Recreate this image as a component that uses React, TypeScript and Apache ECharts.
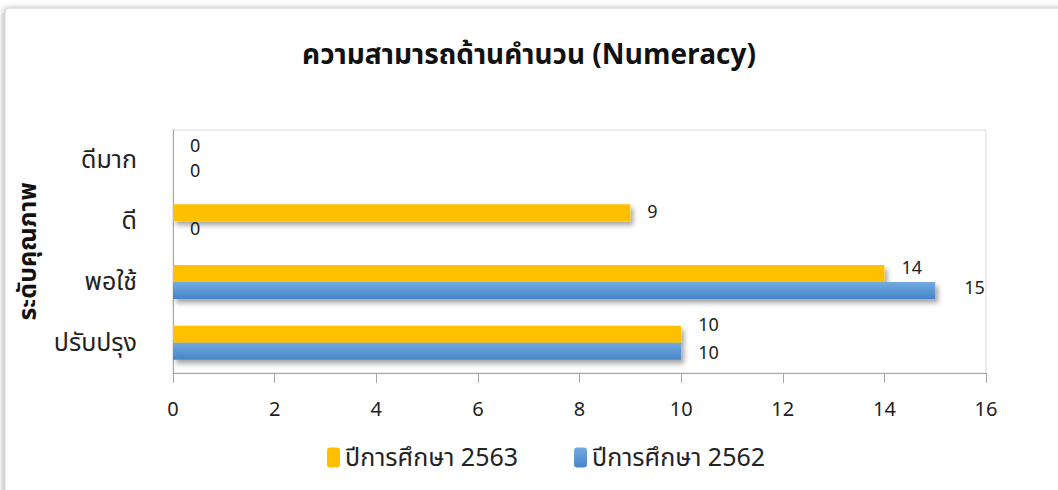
import React, { useEffect, useRef } from "react";
import * as echarts from "echarts";

const categories = ["ปรับปรุง", "พอใช้", "ดี", "ดีมาก"];
const values2563 = [10, 14, 9, 0];
const values2562 = [10, 15, 0, 0];
const seriesNames = ["ปีการศึกษา 2563", "ปีการศึกษา 2562"];
const xTicks = { min: 0, max: 16, interval: 2 };
const titleText = "ความสามารถด้านคำนวน (Numeracy)";
const yAxisTitle = "ระดับคุณภาพ";

const FONT = "'Noto Sans Thai', 'Noto Sans', Tahoma, sans-serif";

// label nudges (Excel-style collision avoidance), per category
const offsets2563: [number, number][] = [[0, -9], [0, -5], [0, 0], [0, -5]];
const offsets2562: [number, number][] = [[0, 2], [12, -2], [0, 0], [0, 3]];

export default function App() {
  const ref = useRef<HTMLDivElement>(null);
  useEffect(() => {
    if (!ref.current) return;
    const chart = echarts.init(ref.current, null, { renderer: "svg" });
    const labelStyle = {
      show: true,
      position: "right" as const,
      distance: 17,
      fontSize: 18,
      lineHeight: 16,
      color: "#222",
      fontFamily: FONT,
    };
    const shadow = {
      shadowColor: "rgba(0,0,0,0.35)",
      shadowBlur: 5,
      shadowOffsetX: 3,
      shadowOffsetY: 4,
    };
    const withOffsets = (vals: number[], offs: [number, number][]) =>
      vals.map((v, i) => ({ value: v, label: { offset: offs[i] } }));
    chart.setOption({
      animation: false,
      backgroundColor: "#ffffff",
      textStyle: { fontFamily: FONT },
      graphic: [
        {
          type: "rect",
          shape: { x: 5, y: 8, width: 1070, height: 500, r: 4 },
          style: {
            fill: "#ffffff",
            stroke: "#d0d0d0",
            lineWidth: 1,
            shadowColor: "rgba(0,0,0,0.35)",
            shadowBlur: 6,
            shadowOffsetX: -1,
            shadowOffsetY: 1,
          },
          z: -10,
          silent: true,
        },
      ],
      title: {
        text: titleText,
        left: "center",
        top: 36,
        textStyle: { fontSize: 28, fontWeight: "bold", color: "#111", fontFamily: FONT },
      },
      legend: {
        data: seriesNames,
        left: 322,
        top: 440,
        itemWidth: 13,
        itemHeight: 20,
        itemGap: 56,
        textStyle: { fontSize: 25, color: "#222", fontFamily: FONT },
      },
      grid: { left: 173, right: 72, top: 130, bottom: 117, show: true, borderColor: "#d9d9d9", borderWidth: 1 },
      xAxis: {
        type: "value",
        min: xTicks.min,
        max: xTicks.max,
        interval: xTicks.interval,
        axisLine: { show: true, lineStyle: { color: "#a6a6a6" } },
        axisTick: { show: true, length: 10, lineStyle: { color: "#a6a6a6" } },
        splitLine: { show: false },
        axisLabel: { fontSize: 20, color: "#222", margin: 27, fontFamily: FONT },
      },
      yAxis: {
        type: "category",
        data: categories,
        axisLine: { show: true, lineStyle: { color: "#a6a6a6" } },
        axisTick: { show: false },
        axisLabel: { fontSize: 25, color: "#222", margin: 36, fontFamily: FONT },
        name: yAxisTitle,
        nameLocation: "middle",
        nameRotate: 90,
        nameGap: 133,
        nameTextStyle: { fontSize: 25, fontWeight: "bold", color: "#111", fontFamily: FONT },
      },
      series: [
        {
          name: seriesNames[0],
          type: "bar",
          data: withOffsets(values2563, offsets2563),
          barWidth: 17,
          barGap: "0%",
          itemStyle: { color: "#ffc000", ...shadow },
          label: labelStyle,
        },
        {
          name: seriesNames[1],
          type: "bar",
          data: withOffsets(values2562, offsets2562),
          barWidth: 17,
          barGap: "0%",
          itemStyle: {
            color: new echarts.graphic.LinearGradient(0, 0, 0, 1, [
              { offset: 0, color: "#74aae0" },
              { offset: 1, color: "#4585c9" },
            ]),
            ...shadow,
          },
          label: labelStyle,
        },
      ],
    });
    return () => chart.dispose();
  }, []);
  return (
    <div
      ref={ref}
      style={{ position: "fixed", left: 0, top: 0, width: 1058, height: 490 }}
    />
  );
}
